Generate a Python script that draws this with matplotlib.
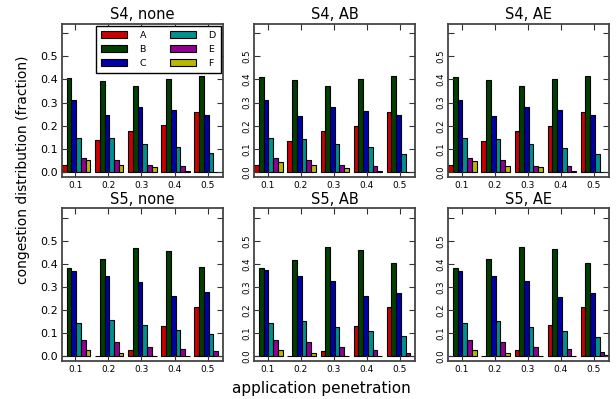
import numpy as np
import matplotlib
matplotlib.use("Agg")
import matplotlib.pyplot as plt

penetration = [0.1, 0.2, 0.3, 0.4, 0.5]
series_names = ["A", "B", "C", "D", "E", "F"]
colors = ["#cc0000", "#003f00", "#0000aa", "#009090", "#900090", "#b8b800"]

panel_titles = ["S4, none", "S4, AB", "S4, AE", "S5, none", "S5, AB", "S5, AE"]

# values per panel: rows = series A..F, columns = penetration 0.1..0.5
s4_none = [
    [0.032, 0.137, 0.179, 0.202, 0.261],
    [0.408, 0.395, 0.374, 0.401, 0.414],
    [0.313, 0.245, 0.283, 0.267, 0.245],
    [0.147, 0.147, 0.120, 0.107, 0.080],
    [0.061, 0.053, 0.032, 0.026, 0.000],
    [0.050, 0.032, 0.022, 0.003, 0.000],
]
s4_ab = [
    [0.030, 0.134, 0.177, 0.198, 0.260],
    [0.411, 0.397, 0.372, 0.401, 0.414],
    [0.312, 0.242, 0.281, 0.264, 0.245],
    [0.149, 0.144, 0.120, 0.107, 0.078],
    [0.061, 0.050, 0.032, 0.026, 0.000],
    [0.045, 0.030, 0.019, 0.004, 0.000],
]
s4_ae = [
    [0.029, 0.134, 0.176, 0.198, 0.260],
    [0.410, 0.398, 0.372, 0.401, 0.414],
    [0.312, 0.242, 0.283, 0.266, 0.245],
    [0.147, 0.143, 0.120, 0.105, 0.076],
    [0.059, 0.052, 0.026, 0.026, 0.000],
    [0.048, 0.027, 0.023, 0.004, 0.000],
]
s5_none = [
    [0.000, 0.000, 0.026, 0.131, 0.215],
    [0.381, 0.420, 0.470, 0.455, 0.385],
    [0.371, 0.348, 0.320, 0.260, 0.280],
    [0.146, 0.156, 0.134, 0.115, 0.095],
    [0.072, 0.061, 0.042, 0.030, 0.024],
    [0.029, 0.016, 0.003, 0.003, 0.003],
]
s5_ab = [
    [0.000, 0.000, 0.025, 0.133, 0.214],
    [0.381, 0.418, 0.475, 0.462, 0.405],
    [0.372, 0.348, 0.325, 0.263, 0.273],
    [0.146, 0.154, 0.128, 0.110, 0.087],
    [0.072, 0.061, 0.042, 0.027, 0.014],
    [0.029, 0.016, 0.003, 0.003, 0.003],
]
s5_ae = [
    [0.000, 0.000, 0.026, 0.134, 0.214],
    [0.382, 0.420, 0.475, 0.463, 0.403],
    [0.371, 0.348, 0.325, 0.258, 0.276],
    [0.146, 0.154, 0.128, 0.110, 0.085],
    [0.072, 0.061, 0.042, 0.030, 0.017],
    [0.029, 0.016, 0.003, 0.003, 0.006],
]
panel_data = [s4_none, s4_ab, s4_ae, s5_none, s5_ab, s5_ae]

ytick_vals = [0.0, 0.1, 0.2, 0.3, 0.4, 0.5, 0.6]
ytick_labels = ["0.0", "0.1", "0.2", "0.3", "0.4", "0.5", ""]
xtick_labels = ["0.1", "0.2", "0.3", "0.4", "0.5"]

fig = plt.figure(figsize=(6.16, 3.99), dpi=100)

W, H = 616.0, 399.0
lefts = [62.0, 254.3, 448.3]
width_px = 160.8
tops = [24.0, 208.4]
height_px = 152.6

bw = 0.1 / 7
x = np.array(penetration)
for idx in range(6):
    r, c = divmod(idx, 3)
    ax = fig.add_axes([lefts[c] / W, 1 - (tops[r] + height_px) / H,
                       width_px / W, height_px / H])
    data = panel_data[idx]
    handles = []
    for i, name in enumerate(series_names):
        h = ax.bar(x - 0.04 + i * bw, data[i], width=bw, align="edge",
                   color=colors[i], edgecolor="black", linewidth=0.8,
                   label=name)
        handles.append(h)
    ax.set_xlim(0.06, 0.06 + 0.4 + 6 * bw)
    ax.set_ylim(-0.02, 0.64)
    ax.set_xticks(penetration)
    ax.set_xticklabels(xtick_labels, fontsize=6.5)
    ax.set_yticks(ytick_vals)
    if c == 0:
        ax.set_yticklabels(ytick_labels, fontsize=8)
        ax.tick_params(axis="y", pad=3)
    else:
        ax.set_yticklabels(ytick_labels, fontsize=6.2, rotation=90, va="center")
        ax.tick_params(axis="y", pad=2)
    ax.tick_params(axis="both", direction="in", top=True, right=True,
                   length=4, width=0.8, color="#333333")
    ax.tick_params(axis="x", pad=3)
    for sp in ax.spines.values():
        sp.set_color("#444444")
        sp.set_linewidth(1.3)
    ax.set_title(panel_titles[idx], fontsize=10.5, pad=3.5)
    if idx == 0:
        leg = ax.legend(handles=handles, ncol=2, loc="upper right",
                        fontsize=6.8, fancybox=False, framealpha=1,
                        edgecolor="black", handlelength=2.8,
                        handleheight=0.75, labelspacing=0.5,
                        borderaxespad=0.2, columnspacing=2.5,
                        handletextpad=1.3, borderpad=0.55)
        leg.get_frame().set_linewidth(1.0)

fig.text(23 / W, 1 - 170 / H, "congestion distribution (fraction)",
         rotation=90, ha="center", va="center", fontsize=10)
fig.text(321 / W, 1 - 388 / H, "application penetration",
         ha="center", va="center", fontsize=11)

fig.savefig("out.png", dpi=100)
